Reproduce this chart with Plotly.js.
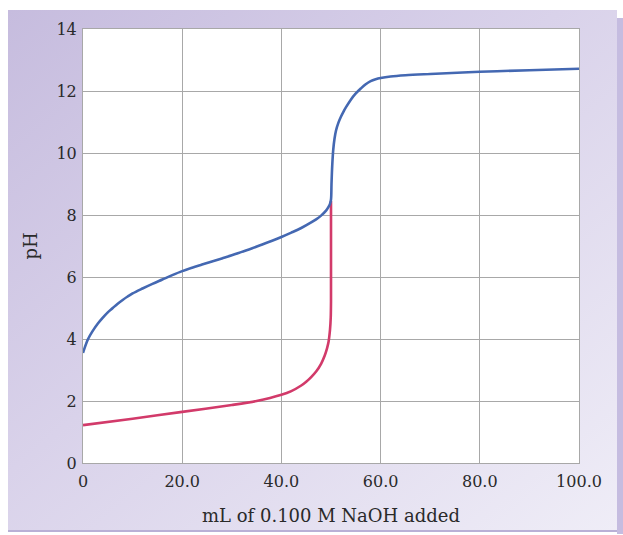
<!DOCTYPE html>
<html>
<head>
<meta charset="utf-8">
<script src="https://cdn.plot.ly/plotly-3.0.1.min.js"></script>
<style>
  html, body { margin:0; padding:0; background:#ffffff; }
  #wrap { position:relative; width:623px; height:535px; overflow:hidden; }
  #panel { position:absolute; left:8px; top:10px; width:609px; height:522px;
           background: linear-gradient(140deg, #c6bcde 0%, #d9d2ea 45%, #efedf7 100%);
           border-bottom:2px solid #b9b0d6; box-sizing:border-box; }
  #shadow { position:absolute; left:617px; top:18px; width:6px; height:516px; background:#c5bce0; }
  #chart { position:absolute; left:0; top:0; width:623px; height:535px; }
</style>
</head>
<body>
<div id="wrap">
  <div id="panel"></div>
  <div id="shadow"></div>
  <div id="chart"></div>
</div>
<script>
// Weak acid (blue) titration curve
const weakX  = [0, 1, 2, 3, 4, 5, 6, 7, 8, 9, 10, 12, 14, 16, 18, 20, 22, 24, 26, 28, 30, 32, 34, 36, 38, 40, 42, 44, 46, 47, 48, 49, 49.5, 49.8, 50,
                50.1, 50.25, 50.45, 50.7, 51, 51.5, 52, 52.5, 53, 54, 55, 56, 57, 58, 59, 60, 62, 65, 70, 80, 90, 100];
const weakPH = [3.55, 3.99, 4.27, 4.5, 4.69, 4.86, 5.0, 5.14, 5.26, 5.37, 5.47, 5.63, 5.78, 5.92, 6.06, 6.19, 6.3, 6.4, 6.5, 6.6, 6.7, 6.81, 6.92, 7.04, 7.16, 7.29, 7.43, 7.58, 7.76, 7.86, 7.98, 8.14, 8.26, 8.36, 8.5,
                9.0, 9.6, 10.1, 10.45, 10.72, 10.98, 11.17, 11.33, 11.47, 11.72, 11.92, 12.08, 12.22, 12.32, 12.38, 12.42, 12.47, 12.51, 12.55, 12.62, 12.67, 12.72];
// Strong acid (red) titration curve
const strongX  = [0, 10, 20, 30, 35, 40, 42, 44, 45, 46, 47, 48, 48.7, 49.2, 49.5, 49.8, 49.95, 50, 50];
const strongPH = [1.22, 1.43, 1.65, 1.87, 2.0, 2.2, 2.32, 2.5, 2.62, 2.77, 2.95, 3.2, 3.45, 3.7, 3.9, 4.3, 4.7, 5.2, 8.45];

const xTickVals = [0, 20, 40, 60, 80, 100];
const xTickText = ['0', '20.0', '40.0', '60.0', '80.0', '100.0'];
const yTickVals = [0, 2, 4, 6, 8, 10, 12, 14];

const traces = [
  { x: strongX, y: strongPH, type: 'scatter', mode: 'lines',
    line: { color: '#d23a6a', width: 2.6, shape: 'spline', smoothing: 0.8 }, hoverinfo: 'skip' },
  { x: weakX, y: weakPH, type: 'scatter', mode: 'lines',
    line: { color: '#4468b2', width: 2.6, shape: 'spline', smoothing: 1 }, hoverinfo: 'skip' }
];

const fontFam = '"DejaVu Serif", "Liberation Serif", serif';
const layout = {
  width: 623, height: 535,
  margin: { l: 83, r: 44, t: 29, b: 72 },
  paper_bgcolor: 'rgba(0,0,0,0)',
  plot_bgcolor: '#ffffff',
  showlegend: false,
  font: { family: fontFam, size: 16, color: '#222222' },
  xaxis: {
    range: [0, 100], tickvals: xTickVals, ticktext: xTickText,
    showgrid: true, gridcolor: '#a8a8a8', gridwidth: 1,
    zeroline: false, showline: true, linecolor: '#a8a8a8', mirror: true,
    ticks: '', ticklabelstandoff: 4,
    tickfont: { family: fontFam, size: 16, color: '#2a2a2a' },
    title: { text: 'mL of 0.100 M NaOH added', font: { family: fontFam, size: 18, color: '#2a2a2a' }, standoff: 19 }
  },
  yaxis: {
    range: [0, 14], tickvals: yTickVals,
    showgrid: true, gridcolor: '#a8a8a8', gridwidth: 1,
    zeroline: false, showline: true, linecolor: '#a8a8a8', mirror: true,
    ticks: '', ticklabelstandoff: 2,
    tickfont: { family: fontFam, size: 16, color: '#2a2a2a' },
    title: { text: 'pH', font: { family: fontFam, size: 18, color: '#2a2a2a' }, standoff: 14 }
  }
};

Plotly.newPlot('chart', traces, layout, { staticPlot: true, displayModeBar: false });
</script>
</body>
</html>
